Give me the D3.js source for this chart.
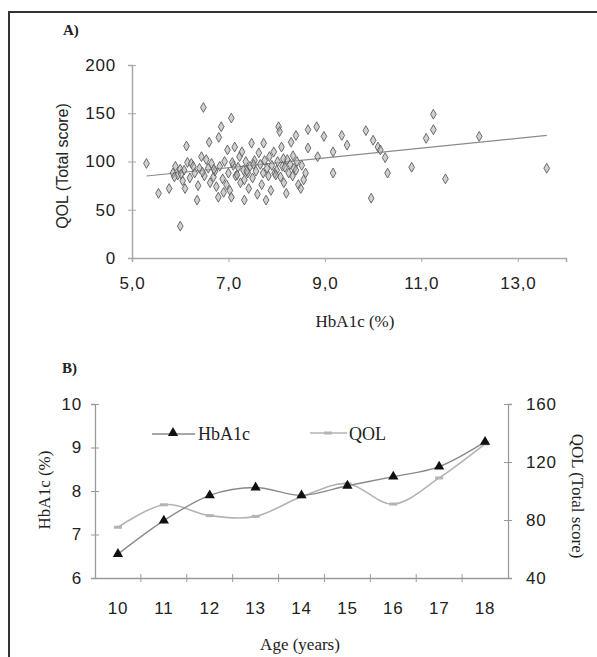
<!DOCTYPE html>
<html><head><meta charset="utf-8">
<script src="https://cdn.jsdelivr.net/npm/d3@7"></script>
<style>
body{margin:0;background:#fff;}
svg{display:block;}
.sans{font-family:"Liberation Sans",Arial,sans-serif;}
.serif{font-family:"Liberation Serif","Times New Roman",serif;}
</style></head>
<body>
<script>
// ---------- Panel A data ----------
const scatterHbA1c = [5.3,5.55,5.77,6.0,5.85,5.9,5.95,6.0,6.05,6.08,6.1,6.13,6.15,6.2,6.23,6.3,6.35,6.37,6.4,6.44,
 6.48,6.5,6.54,6.58,6.6,6.62,6.65,6.69,6.72,6.75,6.79,6.8,6.82,6.85,6.88,6.9,6.92,6.96,6.98,7.0,
 7.03,7.06,7.06,7.1,7.13,7.15,7.2,7.23,7.25,7.28,7.31,7.33,7.33,7.36,7.4,7.42,7.45,7.48,7.5,7.54,
 7.57,7.6,7.63,7.66,7.69,7.72,7.73,7.75,7.78,7.8,7.83,7.85,7.88,7.9,7.94,7.96,8.0,8.02,8.04,8.06,
 8.08,8.1,8.12,8.15,8.17,8.2,8.22,8.25,8.28,8.3,8.33,8.36,8.4,8.4,8.42,8.45,8.5,8.52,8.56,8.6,
 8.65,8.65,8.83,8.85,8.98,9.17,9.17,9.35,9.46,9.85,9.96,10.0,10.1,10.15,10.25,10.3,10.8,11.1,11.25,11.25,
 11.5,12.2,13.6,5.88,6.02,6.27,6.46,6.7,7.08,7.18,7.38,7.52,7.98,8.14,8.34];
const scatterQOL = [98,67,72,33,88,95,86,92,80,91,72,116,99,83,98,88,60,75,93,105,
 156,85,102,93,120,78,98,84,90,74,63,125,95,136,82,68,100,76,112,88,
 70,63,145,96,115,85,94,105,78,110,91,81,60,100,88,72,95,119,83,101,
 90,66,109,97,76,88,119,101,60,93,85,105,70,96,110,88,91,100,136,131,
 84,115,95,78,94,67,102,88,97,120,85,93,127,91,100,76,72,96,81,88,
 133,114,136,105,126,110,88,127,117,132,62,122,115,112,104,88,94,124,133,149,
 82,126,93,84,87,95,89,92,99,86,90,97,86,103,106];
const trendHbA1c = [5.3, 13.6];
const trendQOL = [85, 127];
const xTicksA = [5,7,9,11,13];
const yTicksA = [0,50,100,150,200];

// ---------- Panel B data ----------
const ages = ["10","11","12","13","14","15","16","17","18"];
const meanHbA1c = [6.55,7.32,7.9,8.08,7.9,8.12,8.33,8.56,9.13];
const meanQOL = [75,90.5,83,82.5,96,105,91,109,132.5];
const yTicksLeft = [6,7,8,9,10];
const yTicksRight = [40,80,120,160];

const W=597,H=657;
const svg=d3.select("body").append("svg").attr("width",W).attr("height",H);
svg.append("rect").attr("width",W).attr("height",H).attr("fill","#fff");
// frame
svg.append("line").attr("x1",9).attr("x2",9).attr("y1",11).attr("y2",H).attr("stroke","#333").attr("stroke-width",2);
svg.append("line").attr("x1",8).attr("x2",W).attr("y1",12).attr("y2",12).attr("stroke","#333").attr("stroke-width",2);

// ---------- Panel A ----------
const xA=d3.scaleLinear([5,14],[132,566]);
const yA=d3.scaleLinear([0,200],[258,65]);
const axisCol="#a8a8a8";
const gyA=svg.append("g").attr("transform","translate(132,0)")
  .call(d3.axisLeft(yA).tickValues(yTicksA).tickSize(4).tickPadding(12).tickFormat(d=>d));
const gxA=svg.append("g").attr("transform","translate(0,258)")
  .call(d3.axisBottom(xA).tickValues(xTicksA).tickSize(4).tickPadding(15).tickFormat(d=>d.toFixed(1).replace(".",",")));
[gyA,gxA].forEach(g=>{
  g.select(".domain").attr("stroke",axisCol).attr("stroke-width",1.5);
  g.selectAll(".tick line").attr("stroke",axisCol);
  g.selectAll("text").attr("class","sans").attr("font-size",17).attr("fill","#222").attr("letter-spacing",0.8);
});
gyA.selectAll(".tick line").attr("x2",4).attr("x1",-4);
// trend line
svg.append("path").datum(trendHbA1c.map((d,i)=>[d,trendQOL[i]]))
  .attr("d",d3.line().x(d=>xA(d[0])).y(d=>yA(d[1])))
  .attr("stroke","#8a8a8a").attr("stroke-width",1.2).attr("fill","none");
// points
const diamond=d3.symbol().type(d3.symbolDiamond).size(28);
svg.append("g").selectAll("path").data(scatterHbA1c.map((d,i)=>[d,scatterQOL[i]])).join("path")
  .attr("transform",d=>`translate(${xA(d[0])},${yA(d[1])})`)
  .attr("d",diamond).attr("fill","#b0b0b0").attr("fill-opacity",0.6)
  .attr("stroke","#5e5e5e").attr("stroke-width",0.9);
// labels
svg.append("text").attr("class","serif").attr("x",63).attr("y",35).attr("font-size",15).attr("font-weight","bold").attr("fill","#222").text("A)");
svg.append("text").attr("class","sans").attr("transform","translate(68,166) rotate(-90)").attr("text-anchor","middle")
  .attr("font-size",16).attr("fill","#222").text("QOL (Total score)");
svg.append("text").attr("class","serif").attr("x",355).attr("y",327).attr("text-anchor","middle")
  .attr("font-size",17).attr("fill","#222").text("HbA1c (%)");

// ---------- Panel B ----------
const xB=d3.scaleBand(ages,[95,508]);
const yL=d3.scaleLinear([6,10],[578,404]);
const yR=d3.scaleLinear([40,160],[578,404]);
const bCol="#9a9a9a";
const gL=svg.append("g").attr("transform","translate(95,0)")
  .call(d3.axisLeft(yL).tickValues(yTicksLeft).tickSize(4).tickPadding(9).tickFormat(d=>d));
const gR=svg.append("g").attr("transform","translate(508,0)")
  .call(d3.axisRight(yR).tickValues(yTicksRight).tickSize(4).tickPadding(14).tickFormat(d=>d));
const gX=svg.append("g").attr("transform","translate(0,578)")
  .call(d3.axisBottom(xB).tickSize(0).tickPadding(24));
[gL,gR,gX].forEach(g=>{
  g.select(".domain").attr("stroke",bCol).attr("stroke-width",1.3);
  g.selectAll(".tick line").attr("stroke",bCol);
  g.selectAll("text").attr("class","sans").attr("font-size",17).attr("fill","#222").attr("letter-spacing",0.8);
});
gL.selectAll(".tick line").attr("x1",4);
gR.selectAll(".tick line").attr("x1",-4);
// category boundary ticks
svg.append("g").selectAll("line").data(ages.slice(1)).join("line")
  .attr("x1",d=>xB(d)).attr("x2",d=>xB(d)).attr("y1",574).attr("y2",582).attr("stroke",bCol);

const curve=d3.curveCatmullRom.alpha(0);
// QOL line
svg.append("path").datum(meanQOL)
  .attr("d",d3.line().x((d,i)=>xB(ages[i])+xB.bandwidth()/2).y(d=>yR(d)).curve(curve))
  .attr("stroke","#b4b4b4").attr("stroke-width",1.6).attr("fill","none");
svg.append("g").selectAll("rect").data(meanQOL).join("rect")
  .attr("x",(d,i)=>xB(ages[i])+xB.bandwidth()/2-4).attr("y",d=>yR(d)-1.5)
  .attr("width",8).attr("height",3).attr("fill","#b4b4b4");
// HbA1c line
svg.append("path").datum(meanHbA1c)
  .attr("d",d3.line().x((d,i)=>xB(ages[i])+xB.bandwidth()/2).y(d=>yL(d)).curve(curve))
  .attr("stroke","#8a8a8a").attr("stroke-width",1.4).attr("fill","none");
const tri=d3.symbol().type(d3.symbolTriangle).size(46);
svg.append("g").selectAll("path").data(meanHbA1c).join("path")
  .attr("transform",(d,i)=>`translate(${xB(ages[i])+xB.bandwidth()/2},${yL(d)})`)
  .attr("d",tri).attr("fill","#111");

// legend
svg.append("line").attr("x1",152).attr("x2",195).attr("y1",434).attr("y2",434).attr("stroke","#8a8a8a").attr("stroke-width",1.4);
svg.append("path").attr("transform","translate(173,433)").attr("d",tri).attr("fill","#111");
svg.append("text").attr("class","serif").attr("x",198).attr("y",440).attr("font-size",18).attr("fill","#222").text("HbA1c");
svg.append("line").attr("x1",310).attr("x2",347).attr("y1",433).attr("y2",433).attr("stroke","#b4b4b4").attr("stroke-width",1.6);
svg.append("rect").attr("x",324).attr("y",431.5).attr("width",8).attr("height",3).attr("fill","#b4b4b4");
svg.append("text").attr("class","serif").attr("x",349).attr("y",440).attr("font-size",18).attr("fill","#222").text("QOL");

svg.append("text").attr("class","serif").attr("x",62).attr("y",373).attr("font-size",15).attr("font-weight","bold").attr("fill","#222").text("B)");
svg.append("text").attr("class","serif").attr("transform","translate(50,490) rotate(-90)").attr("text-anchor","middle")
  .attr("font-size",17).attr("fill","#222").text("HbA1c (%)");
svg.append("text").attr("class","serif").attr("transform","translate(572,496) rotate(90)").attr("text-anchor","middle")
  .attr("font-size",17).attr("fill","#222").text("QOL (Total score)");
svg.append("text").attr("class","serif").attr("x",300).attr("y",650).attr("text-anchor","middle")
  .attr("font-size",17).attr("fill","#222").text("Age (years)");
</script>
</body></html>
